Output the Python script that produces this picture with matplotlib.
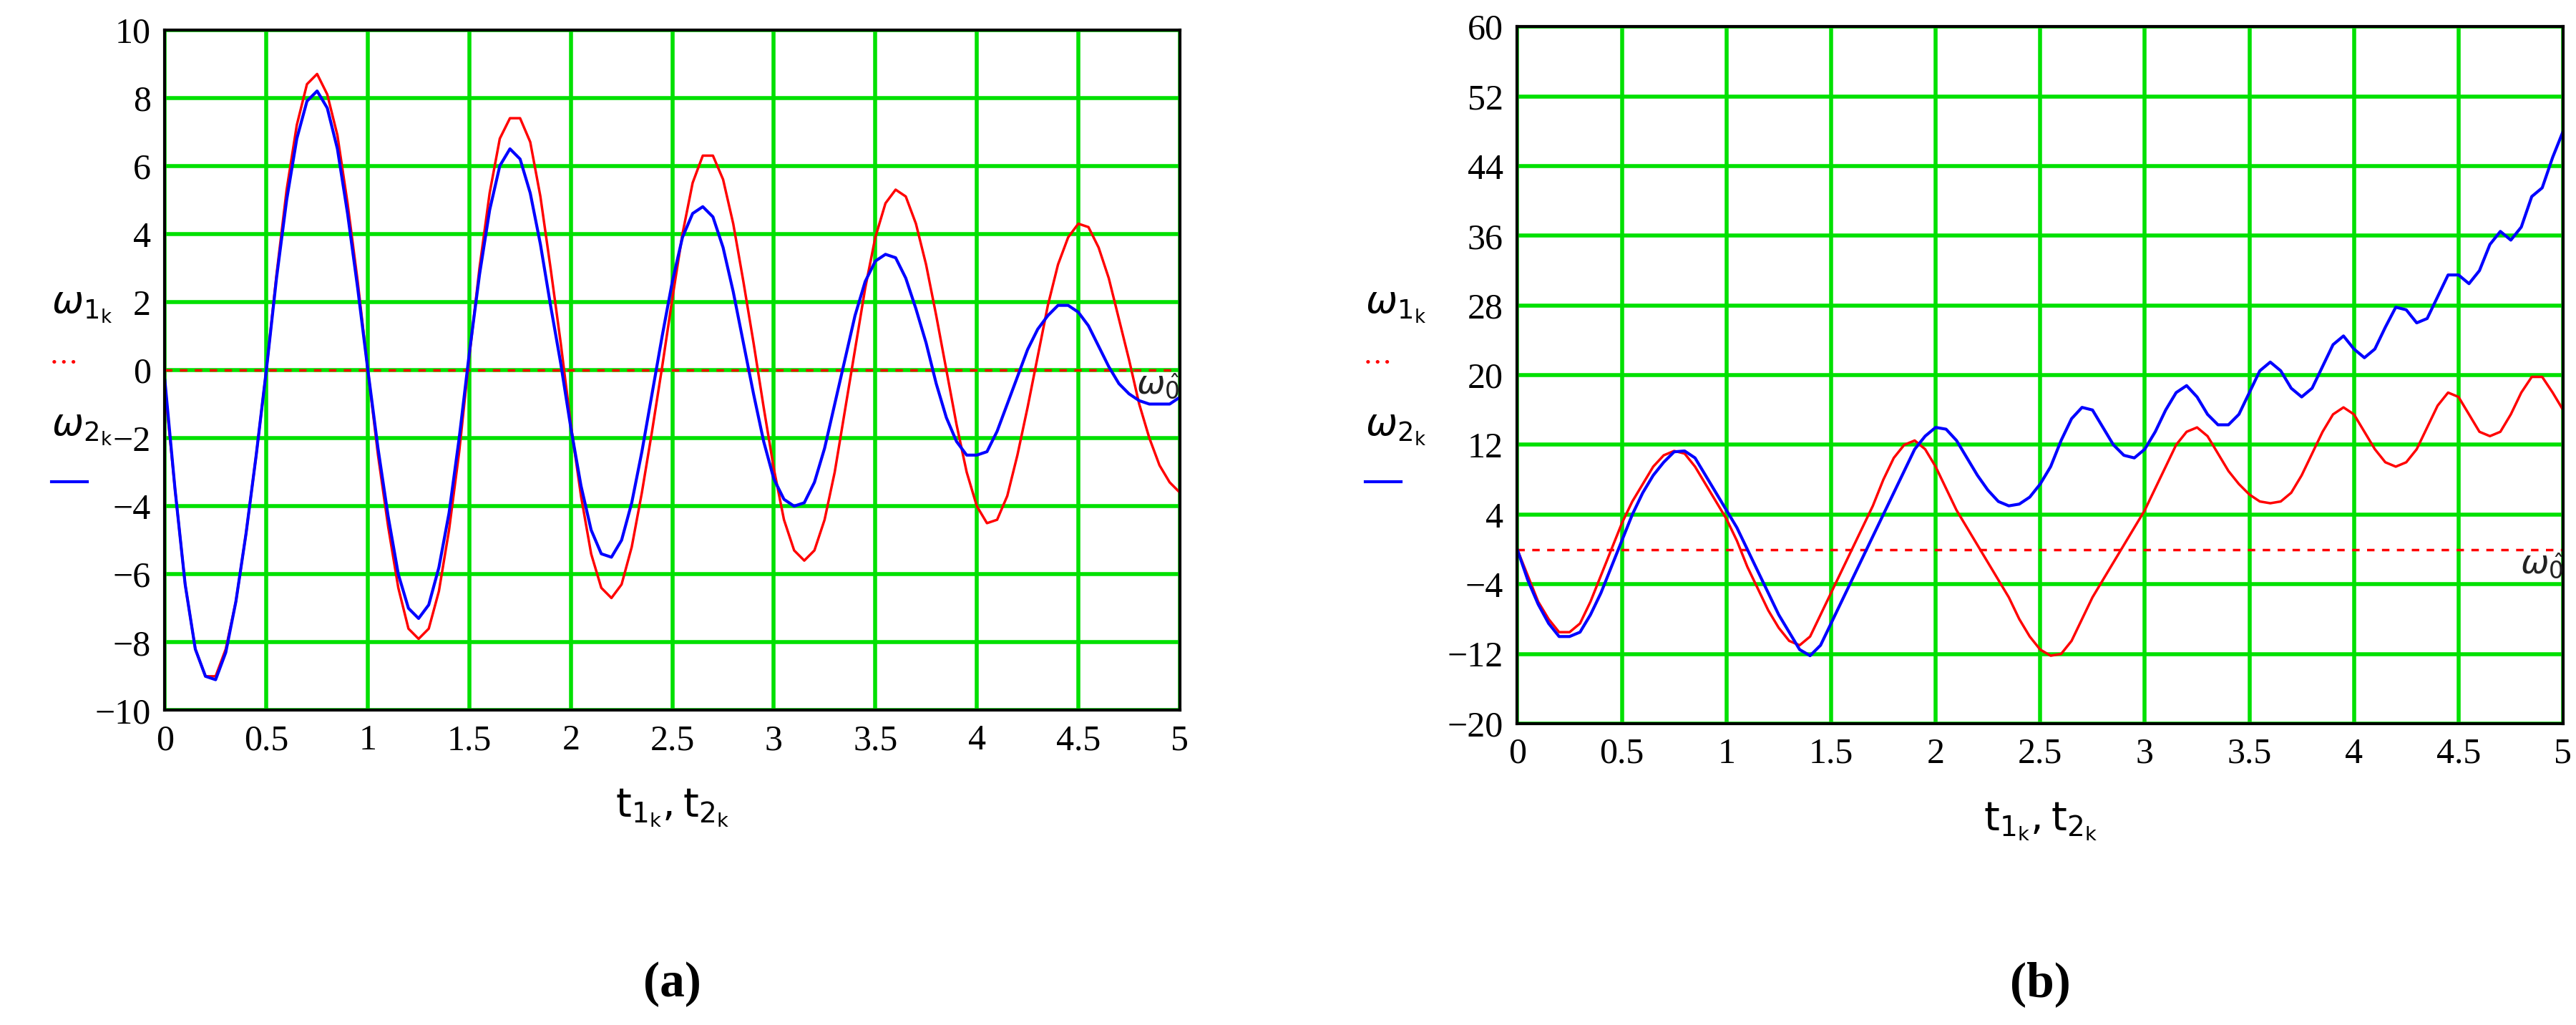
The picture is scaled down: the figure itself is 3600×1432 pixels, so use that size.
import numpy as np
import matplotlib.pyplot as plt

t = np.round(np.arange(0, 5.001, 0.05), 2)

# panel (a)
w1_a = [-0.5, -3.5, -6.3, -8.2, -9.0, -9.0, -8.2, -6.8, -4.8, -2.5, 0.0,
        2.8, 5.3, 7.2, 8.4, 8.7, 8.1, 6.9, 4.9, 2.6, 0.0,
        -2.5, -4.6, -6.4, -7.6, -7.9, -7.6, -6.5, -4.7, -2.4, 0.4,
        3.0, 5.2, 6.8, 7.4, 7.4, 6.7, 5.1, 3.0, 0.8, -1.6,
        -3.7, -5.4, -6.4, -6.7, -6.3, -5.2, -3.6, -1.8, 0.1, 2.1,
        4.0, 5.5, 6.3, 6.3, 5.6, 4.3, 2.6, 0.8, -1.1, -2.9,
        -4.4, -5.3, -5.6, -5.3, -4.4, -3.0, -1.2, 0.6, 2.4, 3.9,
        4.9, 5.3, 5.1, 4.3, 3.1, 1.6, 0.0, -1.6, -3.0, -4.0,
        -4.5, -4.4, -3.7, -2.5, -1.1, 0.4, 1.9, 3.1, 3.9, 4.3,
        4.2, 3.6, 2.7, 1.5, 0.3, -1.0, -2.0, -2.8, -3.3, -3.6]
w2_a = [-0.3, -3.5, -6.3, -8.2, -9.0, -9.1, -8.3, -6.8, -4.8, -2.5, 0.0,
        2.7, 5.0, 6.8, 7.9, 8.2, 7.7, 6.5, 4.6, 2.4, 0.0,
        -2.3, -4.3, -6.0, -7.0, -7.3, -6.9, -5.8, -4.2, -2.0, 0.5,
        2.8, 4.7, 6.0, 6.5, 6.2, 5.2, 3.7, 1.9, 0.2, -1.7,
        -3.4, -4.7, -5.4, -5.5, -5.0, -3.9, -2.4, -0.7, 1.0, 2.6,
        3.9, 4.6, 4.8, 4.5, 3.6, 2.3, 0.8, -0.7, -2.1, -3.2,
        -3.8, -4.0, -3.9, -3.3, -2.3, -1.0, 0.3, 1.6, 2.6, 3.2,
        3.4, 3.3, 2.7, 1.8, 0.8, -0.4, -1.4, -2.1, -2.5, -2.5,
        -2.4, -1.8, -1.0, -0.2, 0.6, 1.2, 1.6, 1.9, 1.9, 1.7,
        1.3, 0.7, 0.1, -0.4, -0.7, -0.9, -1.0, -1.0, -1.0, -0.8]

# panel (b)
w1_b = [0, -3, -6, -8, -9.5, -9.5, -8.5, -6, -3, 0, 3,
        5.5, 7.5, 9.5, 10.8, 11.3, 11, 9.5, 7.5, 5.5, 3.5,
        1, -2, -4.5, -7, -9, -10.5, -11, -10, -7.5, -5,
        -2.5, 0, 2.5, 5, 8, 10.5, 12, 12.5, 11.5, 9.5,
        7, 4.5, 2.5, 0.5, -1.5, -3.5, -5.5, -8, -10, -11.5,
        -12.2, -12, -10.5, -8, -5.5, -3.5, -1.5, 0.5, 2.5, 4.5,
        7, 9.5, 12, 13.5, 14, 13, 11, 9, 7.5, 6.3,
        5.5, 5.3, 5.5, 6.5, 8.5, 11, 13.5, 15.5, 16.3, 15.5,
        13.5, 11.5, 10, 9.5, 10, 11.5, 14, 16.5, 18, 17.5,
        15.5, 13.5, 13, 13.5, 15.5, 18, 19.8, 19.8, 18, 16]
w2_b = [0, -3.5, -6.3, -8.5, -10, -10, -9.5, -7.5, -5, -2, 1,
        4, 6.5, 8.5, 10, 11.2, 11.3, 10.5, 8.5, 6.5, 4.5,
        2.5, 0, -2.5, -5, -7.5, -9.5, -11.5, -12.2, -11, -8.5,
        -6, -3.5, -1, 1.5, 4, 6.5, 9, 11.5, 13, 14,
        13.8, 12.5, 10.5, 8.5, 6.8, 5.5, 5, 5.2, 6, 7.5,
        9.5, 12.5, 15, 16.3, 16, 14, 12, 10.8, 10.5, 11.5,
        13.5, 16, 18, 18.8, 17.5, 15.5, 14.3, 14.3, 15.5, 18,
        20.5, 21.5, 20.5, 18.5, 17.5, 18.5, 21, 23.5, 24.5, 23,
        22, 23, 25.5, 27.8, 27.5, 26, 26.5, 29, 31.5, 31.5,
        30.5, 32, 35, 36.5, 35.5, 37, 40.5, 41.5, 45, 48]

xticks = [0, 0.5, 1, 1.5, 2, 2.5, 3, 3.5, 4, 4.5, 5]
xtick_labels = ['0', '0.5', '1', '1.5', '2', '2.5', '3', '3.5', '4', '4.5', '5']
yticks_a = list(range(-10, 11, 2))
yticks_b = list(range(-20, 61, 8))

plt.rcParams['font.family'] = ['Liberation Serif', 'DejaVu Serif']
fig = plt.figure(figsize=(36, 14.32), dpi=100)

panels = [
    ([0.064, 0.307, 0.394, 0.664], w1_a, w2_a, yticks_a, (-10, 10), 0.020, '(a)'),
    ([0.589, 0.294, 0.406, 0.680], w1_b, w2_b, yticks_b, (-20, 60), 0.530, '(b)'),
]

for rect, w1, w2, yt, ylim, lx, cap in panels:
    ax = fig.add_axes(rect)
    ax.set_xlim(0, 5)
    ax.set_ylim(*ylim)
    ax.set_xticks(xticks)
    ax.set_xticklabels(xtick_labels)
    ax.set_yticks(yt)
    ax.grid(True, color='#00e000', linewidth=4)
    ax.set_axisbelow(True)
    ax.tick_params(length=0, labelsize=36, pad=14)
    for s in ax.spines.values():
        s.set_linewidth(3)
    ax.axhline(0, color='red', linestyle=(0, (3, 3)), linewidth=2.5)
    ax.plot(t, w1, color='red', linewidth=2.5)
    ax.plot(t, w2, color='blue', linewidth=3)
    ax.text(1.0, 0, r'$\omega_{\hat{0}}$', transform=ax.get_yaxis_transform(),
            ha='right', va='top', fontsize=34, color='#222222')
    ax.set_xlabel(r'$\mathrm{t}_{1_{\mathrm{k}}},\mathrm{t}_{2_{\mathrm{k}}}$',
                  fontsize=40, labelpad=30)
    cx = rect[0] + rect[2] / 2
    fig.text(cx, 0.04, cap, ha='center', va='center', fontsize=50, fontweight='bold')
    fig.text(lx, 0.70, r'$\omega_{1_{\mathrm{k}}}$', fontsize=38, va='center')
    fig.text(lx, 0.645, '\u2022 \u2022 \u2022', color='red', fontsize=16, va='center')
    fig.text(lx, 0.58, r'$\omega_{2_{\mathrm{k}}}$', fontsize=38, va='center')
    fig.add_artist(plt.Line2D([lx, lx + 0.014], [0.53, 0.53], color='blue',
                              linewidth=3, transform=fig.transFigure))

fig.savefig('out.png', dpi=100)
